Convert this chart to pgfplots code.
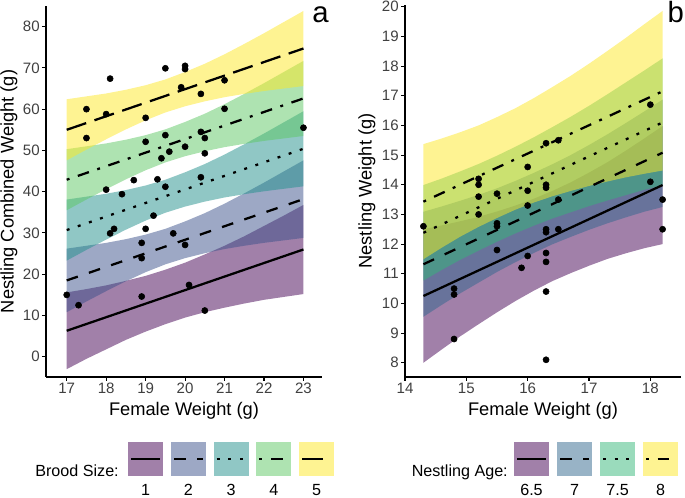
\documentclass[border=0pt]{standalone}
\usepackage{fontspec}
\setmainfont{Liberation Sans}
\usepackage{pgfplots}
\pgfplotsset{compat=1.18}

% viridis, 5 and 4 levels
\definecolor{va1}{HTML}{440154}
\definecolor{va2}{HTML}{3B528B}
\definecolor{va3}{HTML}{21908C}
\definecolor{va4}{HTML}{5DC863}
\definecolor{va5}{HTML}{FDE725}
\definecolor{vb1}{HTML}{440154}
\definecolor{vb2}{HTML}{31688E}
\definecolor{vb3}{HTML}{35B779}
\definecolor{vb4}{HTML}{FDE725}

\tikzset{
  lt1/.style={solid},
  lt2/.style={dash pattern=on 8.8pt off 8.8pt},
  lt3/.style={dash pattern=on 2.2pt off 6.6pt},
  lt4/.style={dash pattern=on 2.2pt off 6.6pt on 8.8pt off 6.6pt},
  lt5/.style={dash pattern=on 15.4pt off 6.6pt},
  fitline/.style={black, line width=1.7pt, no markers},
  band/.style={draw=none, fill=#1, fill opacity=0.5, no markers},
}

\pgfplotsset{
  panel/.style={
    scale only axis,
    axis lines=left,
    axis line style={-, line width=0.8pt},
    tick align=outside,
    major tick length=3pt,
    tick style={black, line width=0.8pt},
    /pgf/number format/assume math mode=true,
    ticklabel style={font=\fontsize{11.3}{13}\selectfont, text=black!75, inner sep=1.5pt},
    label style={font=\fontsize{13.7}{16}\selectfont},
  },
}

\begin{document}
\begin{tikzpicture}

% ---------------- panel a ----------------
\begin{axis}[panel,
  at={(34.5pt,90.75pt)}, anchor=south west,
  width=207pt, height=278.25pt,
  xmin=16.475, xmax=23.47, ymin=-4.9, ymax=85,
  xtick={17,...,23}, ytick={0,10,...,80},
  xlabel={Female Weight (g)},
  ylabel={Nestling Combined Weight (g)},
  xlabel style={at={(axis description cs:0.5,-0.0916)}, anchor=center},
  ylabel style={at={(axis description cs:-0.134,0.5)}, anchor=center},
]
% bands: upper edge left to right, then lower edge right to left
\addplot[band=va1] coordinates {
 (17,15.6) (17.5,16.4) (18,17.3) (18.5,18.4) (19,19.6) (19.5,21.1) (20,22.8)
 (20.5,24.8) (21,26.9) (21.5,29.2) (22,31.7) (22.5,34.2) (23,36.8)
 (23,15.2) (22.5,14.5) (22,13.8) (21.5,12.9) (21,11.9) (20.5,10.8) (20,9.5)
 (19.5,7.9) (19,6.1) (18.5,4.1) (18,1.8) (17.5,-0.5) (17,-3.0)
} -- cycle;
\addplot[band=va2] coordinates {
 (17,26.2) (17.5,26.9) (18,27.6) (18.5,28.5) (19,29.6) (19.5,31.0) (20,32.8)
 (20.5,34.8) (21,37.1) (21.5,39.6) (22,42.2) (22.5,44.9) (23,47.6)
 (23,28.8) (22.5,28.2) (22,27.6) (21.5,26.9) (21,26.1) (20.5,25.1) (20,23.9)
 (19.5,22.4) (19,20.5) (18.5,18.3) (18,15.9) (17.5,13.4) (17,10.8)
} -- cycle;
\addplot[band=va3] coordinates {
 (17,38.1) (17.5,38.8) (18,39.5) (18.5,40.4) (19,41.5) (19.5,42.9) (20,44.7)
 (20.5,46.7) (21,49.0) (21.5,51.5) (22,54.1) (22.5,56.8) (23,59.5)
 (23,41.3) (22.5,40.7) (22,40.1) (21.5,39.4) (21,38.6) (20.5,37.6) (20,36.4)
 (19.5,34.9) (19,33.0) (18.5,30.8) (18,28.4) (17.5,25.9) (17,23.3)
} -- cycle;
\addplot[band=va4] coordinates {
 (17,50.3) (17.5,51.0) (18,51.7) (18.5,52.6) (19,53.7) (19.5,55.1) (20,56.9)
 (20.5,58.9) (21,61.2) (21.5,63.7) (22,66.3) (22.5,69.0) (23,71.7)
 (23,53.5) (22.5,52.9) (22,52.3) (21.5,51.6) (21,50.8) (20.5,49.8) (20,48.6)
 (19.5,47.1) (19,45.2) (18.5,43.0) (18,40.6) (17.5,38.1) (17,35.5)
} -- cycle;
\addplot[band=va5] coordinates {
 (17,62.4) (17.5,63.1) (18,63.8) (18.5,64.7) (19,65.8) (19.5,67.2) (20,69.0)
 (20.5,71.0) (21,73.3) (21.5,75.8) (22,78.4) (22.5,81.1) (23,83.8)
 (23,65.6) (22.5,65.0) (22,64.4) (21.5,63.7) (21,62.9) (20.5,61.9) (20,60.7)
 (19.5,59.2) (19,57.3) (18.5,55.1) (18,52.7) (17.5,50.2) (17,47.6)
} -- cycle;

\addplot[fitline, lt1] coordinates {(17,6.3) (23,26.0)};
\addplot[fitline, lt2] coordinates {(17,18.5) (23,38.2)};
\addplot[fitline, lt3] coordinates {(17,30.7) (23,50.4)};
\addplot[fitline, lt4] coordinates {(17,42.9) (23,62.6)};
\addplot[fitline, lt5] coordinates {(17,55.0) (23,74.7)};

\addplot[only marks, mark=*, mark size=2.3pt, black] table {
x y
17.0 15.0
17.3 12.5
17.5 60.0
17.5 53.0
18.0 58.8
18.1 67.4
18.0 40.5
18.4 39.4
18.7 42.8
18.1 29.9
18.2 31.0
18.9 27.6
18.9 23.9
18.9 14.6
19.0 31.0
19.0 57.9
19.0 52.1
19.2 34.2
19.3 43.0
19.4 48.1
19.5 41.2
19.5 53.7
19.5 69.9
19.6 49.7
19.7 29.9
19.9 65.3
20.0 70.5
20.0 69.7
20.0 50.9
20.0 27.1
20.1 17.4
20.4 63.7
20.4 54.5
20.4 43.5
20.5 53.0
20.5 49.3
20.5 11.2
21.0 67.0
21.0 60.1
23.0 55.5
};
\end{axis}

% ---------------- panel b ----------------
\begin{axis}[panel,
  at={(303.75pt,90.75pt)}, anchor=south west,
  width=207pt, height=279pt,
  xmin=14.0, xmax=18.5, ymin=7.52, ymax=20.06,
  xtick={14,...,18}, ytick={8,...,20},
  xlabel={Female Weight (g)},
  ylabel={Nestling Weight (g)},
  xlabel style={at={(axis description cs:0.5,-0.0914)}, anchor=center},
  ylabel style={at={(axis description cs:-0.1377,0.5)}, anchor=center},
]
\addplot[band=vb1] coordinates {
 (14.3,12.50) (14.6,12.63) (14.9,12.77) (15.2,12.92) (15.5,13.10) (15.8,13.30) (16.1,13.53)
 (16.4,13.79) (16.7,14.08) (17.0,14.41) (17.3,14.76) (17.6,15.15) (17.9,15.56) (18.2,15.98)
 (18.2,12.00) (17.9,11.86) (17.6,11.69) (17.3,11.50) (17.0,11.27) (16.7,11.02) (16.4,10.75)
 (16.1,10.43) (15.8,10.08) (15.5,9.70) (15.2,9.30) (14.9,8.89) (14.6,8.45) (14.3,8.00)
} -- cycle;
\addplot[band=vb2] coordinates {
 (14.3,13.09) (14.6,13.27) (14.9,13.46) (15.2,13.66) (15.5,13.88) (15.8,14.13) (16.1,14.40)
 (16.4,14.69) (16.7,15.00) (17.0,15.34) (17.3,15.70) (17.6,16.08) (17.9,16.47) (18.2,16.87)
 (18.2,13.25) (17.9,13.09) (17.6,12.90) (17.3,12.70) (17.0,12.48) (16.7,12.24) (16.4,11.99)
 (16.1,11.70) (15.8,11.39) (15.5,11.06) (15.2,10.70) (14.9,10.34) (14.6,9.95) (14.3,9.55)
} -- cycle;
\addplot[band=vb3] coordinates {
 (14.3,13.99) (14.6,14.21) (14.9,14.45) (15.2,14.70) (15.5,14.98) (15.8,15.28) (16.1,15.60)
 (16.4,15.94) (16.7,16.29) (17.0,16.66) (17.3,17.05) (17.6,17.45) (17.9,17.85) (18.2,18.26)
 (18.2,13.98) (17.9,13.83) (17.6,13.65) (17.3,13.47) (17.0,13.28) (16.7,13.07) (16.4,12.86)
 (16.1,12.62) (15.8,12.36) (15.5,12.08) (15.2,11.78) (14.9,11.47) (14.6,11.13) (14.3,10.77)
} -- cycle;
\addplot[band=vb4] coordinates {
 (14.3,15.37) (14.6,15.56) (14.9,15.77) (15.2,16.00) (15.5,16.28) (15.8,16.58) (16.1,16.92)
 (16.4,17.29) (16.7,17.67) (17.0,18.08) (17.3,18.51) (17.6,18.95) (17.9,19.41) (18.2,19.86)
 (18.2,14.48) (17.9,14.37) (17.6,14.25) (17.3,14.11) (17.0,13.96) (16.7,13.79) (16.4,13.61)
 (16.1,13.40) (15.8,13.16) (15.5,12.88) (15.2,12.58) (14.9,12.25) (14.6,11.88) (14.3,11.49)
} -- cycle;

\addplot[fitline, lt1] coordinates {(14.3,10.25) (18.2,13.99)};
\addplot[fitline, lt2] coordinates {(14.3,11.32) (18.2,15.08)};
\addplot[fitline, lt3] coordinates {(14.3,12.38) (18.2,16.10)};
\addplot[fitline, lt4] coordinates {(14.3,13.43) (18.2,17.15)};

\addplot[only marks, mark=*, mark size=2.3pt, black] table {
x y
14.3 12.6
14.8 10.5
14.8 10.3
14.8 8.8
15.2 14.2
15.2 14.0
15.2 13.6
15.2 13.0
15.5 13.7
15.5 12.7
15.5 12.6
15.5 11.8
15.9 11.2
16.0 14.6
16.0 13.8
16.0 13.3
16.0 11.6
16.3 15.4
16.3 14.0
16.3 13.9
16.3 12.5
16.3 12.4
16.3 11.7
16.3 11.4
16.3 10.4
16.3 8.1
16.5 15.5
16.5 13.5
16.5 12.5
18.0 16.7
18.0 14.1
18.2 13.5
18.2 12.5
};
\end{axis}

% panel tags
\node[anchor=base west, inner sep=0pt, font=\fontsize{22}{26}\selectfont] at (234pt,356.25pt) {a};
\node[anchor=base west, inner sep=0pt, font=\fontsize{22}{26}\selectfont] at (500.5pt,356.25pt) {b};

% legends
\node[anchor=base east, inner sep=0pt, font=\fontsize{12.1}{14}\selectfont] at (89.25pt,16pt) {Brood Size:};
\foreach \xx/\cc/\ss/\lab in {96/va1/lt1/1, 128.1/va2/lt2/2, 160.2/va3/lt3/3, 192.3/va4/lt4/4, 224.4/va5/lt5/5} {
  \fill[\cc, fill opacity=0.5] (\xx pt,16.5pt) rectangle ++(26.25pt,25.5pt);
  \draw[black, line width=1.7pt, \ss] (\xx pt+2.25pt,29.25pt) -- ++(21.75pt,0);
  \node[anchor=base, inner sep=0pt, font=\fontsize{12.1}{14}\selectfont] at (\xx pt+13.125pt,2.2pt) {\lab};
}
\node[anchor=base east, inner sep=0pt, font=\fontsize{12.1}{14}\selectfont] at (381pt,16pt) {Nestling Age:};
\foreach \xx/\cc/\ss/\lab in {385.5/vb1/lt1/6.5, 417.75/vb2/lt2/7, 450/vb3/lt3/7.5, 482.25/vb4/lt4/8} {
  \fill[\cc, fill opacity=0.5] (\xx pt,16.5pt) rectangle ++(26.25pt,25.5pt);
  \draw[black, line width=1.7pt, \ss] (\xx pt+2.25pt,29.25pt) -- ++(21.75pt,0);
  \node[anchor=base, inner sep=0pt, font=\fontsize{12.1}{14}\selectfont] at (\xx pt+13.125pt,2.2pt) {\lab};
}

% page = reference frame
\pgfresetboundingbox
\useasboundingbox (0,0) rectangle (513.75pt,373.5pt);
\end{tikzpicture}
\end{document}
